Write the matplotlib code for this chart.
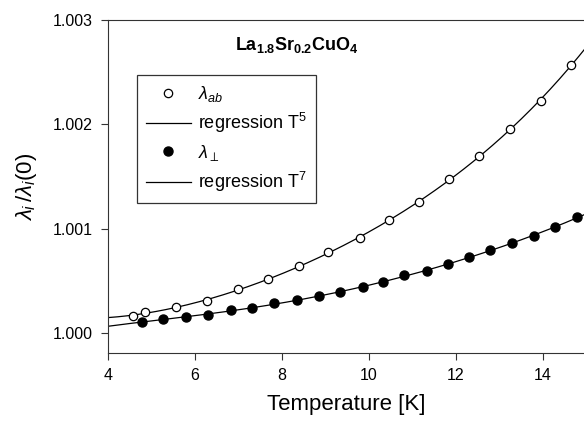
import matplotlib
matplotlib.use("Agg")
import matplotlib.pyplot as plt
import numpy as np

plt.rcParams['font.family'] = ['Liberation Sans', 'DejaVu Sans']
plt.rcParams['mathtext.fontset'] = 'custom'
plt.rcParams['mathtext.rm'] = 'Liberation Sans'
plt.rcParams['mathtext.it'] = 'Liberation Sans:italic'
plt.rcParams['mathtext.bf'] = 'Liberation Sans:bold'

# lambda_ab (open circles)
t_ab = [4.57, 4.84, 5.57, 6.27, 7.00, 7.69, 8.39, 9.06, 9.79,
        10.47, 11.16, 11.85, 12.53, 13.25, 13.95, 14.65]
l_ab = [1.000163, 1.000204, 1.000249, 1.000304, 1.000425, 1.000515, 1.000645, 1.000774, 1.000908,
        1.001083, 1.001253, 1.001479, 1.001694, 1.001956, 1.002221, 1.002569]

# lambda_perp (filled circles)
t_perp = [4.79, 5.27, 5.79, 6.30, 6.83, 7.32, 7.82, 8.35, 8.85, 9.34, 9.87, 10.33,
          10.81, 11.34, 11.82, 12.30, 12.78, 13.29, 13.80, 14.28, 14.79]
l_perp = [1.000108, 1.000134, 1.000153, 1.000173, 1.000223, 1.000243, 1.000288, 1.000314,
          1.000352, 1.000396, 1.000441, 1.000486, 1.000556, 1.000597, 1.000662, 1.000729,
          1.000796, 1.000863, 1.000930, 1.001016, 1.001109]

x_ticks = [4, 6, 8, 10, 12, 14]
y_ticks = [1.000, 1.001, 1.002, 1.003]

fig = plt.figure(figsize=(5.84, 4.25), dpi=100)
ax = fig.add_axes([108 / 584, 1 - 353 / 425, 1 - 108 / 584, (353 - 20) / 425])

# regression curves fitted to the data
t_fit = np.linspace(4, 15, 200)
p_ab = np.polyfit(t_ab, l_ab, 4)
p_perp = np.polyfit(t_perp, l_perp, 5)

ax.plot(t_ab, l_ab, 'o', mfc='white', mec='black', ms=6, mew=0.9, label=r'$\lambda_{ab}$', zorder=3)
ax.plot(t_fit, np.polyval(p_ab, t_fit), color='black', lw=0.9, label=r'regression T$^5$')
ax.plot(t_perp, l_perp, 'o', mfc='black', mec='black', ms=6.5, label=r'$\lambda_{\perp}$', zorder=3)
ax.plot(t_fit, np.polyval(p_perp, t_fit), color='black', lw=0.9, label=r'regression T$^7$')

ax.set_xlim(4, 14.95)
ax.set_ylim(0.99981, 1.003)
ax.set_xticks(x_ticks)
ax.set_yticks(y_ticks)
ax.set_yticklabels(['%.3f' % v for v in y_ticks])
ax.tick_params(direction='out', length=5, width=0.8, labelsize=11.5, pad=6, color='#333333')
ax.spines['right'].set_visible(False)
for s in ['left', 'bottom', 'top']:
    ax.spines[s].set_color('#333333')

ax.set_xlabel('Temperature [K]', fontsize=16, labelpad=8)
ax.set_ylabel(r'$\lambda_i\,/\lambda_i(0)$', fontsize=16, labelpad=10)

ax.text(0.397, 0.925, r'$\mathbf{La_{1.8}Sr_{0.2}CuO_4}$', transform=ax.transAxes,
        fontsize=13, ha='center', va='center')

leg = ax.legend(loc='upper left', bbox_to_anchor=(0.06, 0.835), fontsize=13,
                frameon=True, fancybox=False, handlelength=2.5, handletextpad=0.4,
                borderpad=0.5, labelspacing=0.4, borderaxespad=0)
leg.get_frame().set_edgecolor('black')
leg.get_frame().set_linewidth(0.9)

fig.savefig('out.png', dpi=100)
